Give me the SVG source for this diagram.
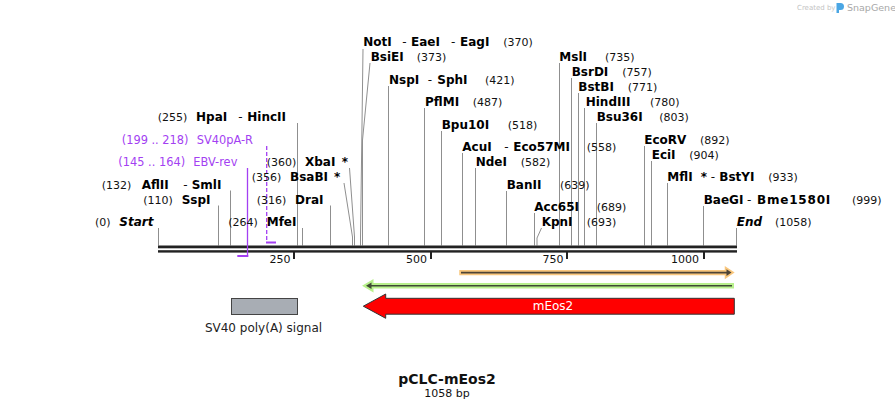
<svg xmlns="http://www.w3.org/2000/svg" width="895" height="409" viewBox="0 0 895 409">
<style>
text{font-family:"DejaVu Sans",Verdana,sans-serif}
.n{font-size:12px;font-weight:bold;fill:#000}
.i{font-style:italic}
.p{font-size:11px;fill:#111}
.d{font-size:12px;fill:#111}
.pr{font-size:11.4px;fill:#a33ff2}
.ln{fill:none;stroke:#8f8f8f;stroke-width:1}
.tk{font-size:11px;fill:#111;text-anchor:end}
.bb{fill:#222}
</style>
<rect width="895" height="409" fill="#fff"/>

<g id="watermark">
<text x="797" y="10" style="font-size:7px;fill:#c4c4c4">Created by</text>
<path d="M836.5 3 h4 a3.5 3.5 0 0 1 0 7 h-1.5 v3 h-2.5 z" fill="#4aa6e4"/>
<text x="847" y="11" style="font-size:9.5px;fill:#a8a8a8">SnapGene</text>
</g>

<g id="connectors">
<line class="ln" x1="158.5" y1="245.5" x2="158.5" y2="228"/>
<line class="ln" x1="218.5" y1="245.5" x2="218.5" y2="205.5"/>
<line class="ln" x1="230.5" y1="245.5" x2="230.5" y2="190.5"/>
<line class="ln" x1="297.5" y1="245.5" x2="297.5" y2="123"/>
<line class="ln" x1="302.5" y1="245.5" x2="302.5" y2="228"/>
<line class="ln" x1="330.5" y1="245.5" x2="330.5" y2="205.5"/>
<polyline class="ln" points="344,183 352.5,237 352.5,245.5"/>
<polyline class="ln" points="349.5,168 354.5,237 354.5,245.5"/>
<polyline class="ln" points="363,49 360.5,237 360.5,245.5"/>
<polyline class="ln" points="370,63 362.5,140 362.5,245.5"/>
<line class="ln" x1="388.5" y1="245.5" x2="388.5" y2="86"/>
<line class="ln" x1="424.5" y1="245.5" x2="424.5" y2="108"/>
<line class="ln" x1="441.5" y1="245.5" x2="441.5" y2="131"/>
<line class="ln" x1="462.5" y1="245.5" x2="462.5" y2="153"/>
<line class="ln" x1="475.5" y1="245.5" x2="475.5" y2="168"/>
<line class="ln" x1="506.5" y1="245.5" x2="506.5" y2="191"/>
<line class="ln" x1="534.5" y1="245.5" x2="534.5" y2="213"/>
<polyline class="ln" points="541.5,228 537,238 537,245.5"/>
<line class="ln" x1="559.5" y1="245.5" x2="559.5" y2="63"/>
<line class="ln" x1="571.5" y1="245.5" x2="571.5" y2="78"/>
<line class="ln" x1="578.5" y1="245.5" x2="578.5" y2="93"/>
<line class="ln" x1="584.5" y1="245.5" x2="584.5" y2="108"/>
<line class="ln" x1="596.5" y1="245.5" x2="596.5" y2="123"/>
<line class="ln" x1="644.5" y1="245.5" x2="644.5" y2="146"/>
<line class="ln" x1="651.5" y1="245.5" x2="651.5" y2="161"/>
<line class="ln" x1="667.5" y1="245.5" x2="667.5" y2="183"/>
<line class="ln" x1="703.5" y1="245.5" x2="703.5" y2="206"/>
<line class="ln" x1="736.5" y1="245.5" x2="736.5" y2="228"/>
</g>

<g id="backbone">
<rect class="bb" x="158" y="245.5" width="579" height="2.8"/>
<rect class="bb" x="158" y="250.2" width="579" height="2.4"/>
<rect class="bb" x="293" y="252" width="2" height="7"/>
<rect class="bb" x="430" y="252" width="2" height="7"/>
<rect class="bb" x="566" y="252" width="2" height="7"/>
<rect class="bb" x="703" y="252" width="2" height="7"/>
<text class="tk" x="290.5" y="263">250</text>
<text class="tk" x="427" y="263">500</text>
<text class="tk" x="563.5" y="263">750</text>
<text class="tk" x="699" y="263">1000</text>
</g>

<g id="primer-SV40pA-R">
<line x1="266.7" y1="146" x2="266.7" y2="242" stroke="#a33ff2" stroke-width="1.3" stroke-dasharray="4 2"/>
<rect x="266" y="241.5" width="10" height="2" fill="#a33ff2"/>
<text y="143.5"><tspan class="pr" x="121.7">(199 .. 218)</tspan><tspan class="pr" x="196.7">SV40pA-R</tspan></text>
</g>
<g id="primer-EBV-rev">
<line x1="247.5" y1="168" x2="247.5" y2="256.5" stroke="#a33ff2" stroke-width="1.3"/>
<rect x="237.3" y="255" width="11" height="2" fill="#a33ff2"/>
<text y="166"><tspan class="pr" x="118.3">(145 .. 164)</tspan><tspan class="pr" x="193.3">EBV-rev</tspan></text>
</g>

<g id="site-Start"><text y="226"><tspan class="p" x="95">(0)</tspan><tspan class="n i" x="119.3">Start</tspan></text></g>
<g id="site-SspI"><text y="203.5"><tspan class="p" x="143.3">(110)</tspan><tspan class="n" x="181.7">SspI</tspan></text></g>
<g id="site-AflII"><text y="188.5"><tspan class="p" x="101.7">(132)</tspan><tspan class="n" x="141.7">AflII</tspan><tspan class="d" x="183.3">-</tspan><tspan class="n" x="191.7">SmlI</tspan></text></g>
<g id="site-HpaI"><text y="121"><tspan class="p" x="157.7">(255)</tspan><tspan class="n" x="196">HpaI</tspan><tspan class="d" x="238.3">-</tspan><tspan class="n" x="247.3">HincII</tspan></text></g>
<g id="site-MfeI"><text y="226"><tspan class="p" x="228.3">(264)</tspan><tspan class="n" x="266.7">MfeI</tspan></text></g>
<g id="site-DraI"><text y="203.5"><tspan class="p" x="256.7">(316)</tspan><tspan class="n" x="295">DraI</tspan></text></g>
<g id="site-BsaBI"><text y="181"><tspan class="p" x="251.7">(356)</tspan><tspan class="n" x="290">BsaBI</tspan><tspan class="n" x="334">*</tspan></text></g>
<g id="site-XbaI"><text y="166"><tspan class="p" x="266.7">(360)</tspan><tspan class="n" x="305">XbaI</tspan><tspan class="n" x="341.7">*</tspan></text></g>
<g id="site-NotI"><text y="46"><tspan class="n" x="363.3">NotI</tspan><tspan class="d" x="402.3">-</tspan><tspan class="n" x="411">EaeI</tspan><tspan class="d" x="451">-</tspan><tspan class="n" x="460">EagI</tspan><tspan class="p" x="503.3">(370)</tspan></text></g>
<g id="site-BsiEI"><text y="61"><tspan class="n" x="370.7">BsiEI</tspan><tspan class="p" x="416.7">(373)</tspan></text></g>
<g id="site-NspI"><text y="83.5"><tspan class="n" x="389">NspI</tspan><tspan class="d" x="427.7">-</tspan><tspan class="n" x="437.3">SphI</tspan><tspan class="p" x="485">(421)</tspan></text></g>
<g id="site-PflMI"><text y="106"><tspan class="n" x="425">PflMI</tspan><tspan class="p" x="472.7">(487)</tspan></text></g>
<g id="site-Bpu10I"><text y="128.5"><tspan class="n" x="441.7">Bpu10I</tspan><tspan class="p" x="507.7">(518)</tspan></text></g>
<g id="site-AcuI"><text y="151"><tspan class="n" x="462.3">AcuI</tspan><tspan class="d" x="504.3">-</tspan><tspan class="n" x="513.3">Eco57MI</tspan><tspan class="p" x="586.7">(558)</tspan></text></g>
<g id="site-NdeI"><text y="166"><tspan class="n" x="475.7">NdeI</tspan><tspan class="p" x="520.7">(582)</tspan></text></g>
<g id="site-BanII"><text y="188.5"><tspan class="n" x="506.7">BanII</tspan><tspan class="p" x="560">(639)</tspan></text></g>
<g id="site-Acc65I"><text y="211"><tspan class="n" x="534.3">Acc65I</tspan><tspan class="p" x="596.7">(689)</tspan></text></g>
<g id="site-KpnI"><text y="226"><tspan class="n" x="541.7">KpnI</tspan><tspan class="p" x="586.7">(693)</tspan></text></g>
<g id="site-MslI"><text y="61"><tspan class="n" x="559.3">MslI</tspan><tspan class="p" x="605">(735)</tspan></text></g>
<g id="site-BsrDI"><text y="76"><tspan class="n" x="571.7">BsrDI</tspan><tspan class="p" x="622.3">(757)</tspan></text></g>
<g id="site-BstBI"><text y="91"><tspan class="n" x="578.3">BstBI</tspan><tspan class="p" x="627.7">(771)</tspan></text></g>
<g id="site-HindIII"><text y="106"><tspan class="n" x="585.7">HindIII</tspan><tspan class="p" x="650">(780)</tspan></text></g>
<g id="site-Bsu36I"><text y="121"><tspan class="n" x="596.7">Bsu36I</tspan><tspan class="p" x="659.3">(803)</tspan></text></g>
<g id="site-EcoRV"><text y="143.5"><tspan class="n" x="644.3">EcoRV</tspan><tspan class="p" x="700">(892)</tspan></text></g>
<g id="site-EciI"><text y="158.5"><tspan class="n" x="651.7">EciI</tspan><tspan class="p" x="689.3">(904)</tspan></text></g>
<g id="site-MflI"><text y="181"><tspan class="n" x="667.3">MflI</tspan><tspan class="n" x="700.7">*</tspan><tspan class="d" x="710.7">-</tspan><tspan class="n" x="719.3">BstYI</tspan><tspan class="p" x="768.3">(933)</tspan></text></g>
<g id="site-BaeGI"><text y="203.5"><tspan class="n" x="703.7">BaeGI</tspan><tspan class="d" x="747">-</tspan><tspan class="n" x="757" style="letter-spacing:0.8px">Bme1580I</tspan><tspan class="p" x="852">(999)</tspan></text></g>
<g id="site-End"><text y="226"><tspan class="n i" x="736.7">End</tspan><tspan class="p" x="775">(1058)</tspan></text></g>

<g id="feature-orf-fwd">
<path d="M461 271.8 H726.5 V269.3 L731.5 272.6 L726.5 275.9 V273.4 H461 Z" fill="#4d4436" stroke="#f9c77e" stroke-width="3.5" stroke-linejoin="miter" paint-order="stroke"/>
</g>
<g id="feature-orf-rev">
<path d="M366 285.8 L371.5 282.6 V285 H732 V286.6 H371.5 V289 Z" fill="#3f4a35" stroke="#b8f08c" stroke-width="4" stroke-linejoin="miter" paint-order="stroke"/>
</g>
<g id="feature-mEos2">
<path d="M734.3 298.3 H385.7 V294 L363.3 306.2 L385.7 318.3 V314.2 H734.3 Z" fill="#ff0000" stroke="#333" stroke-width="1"/>
<text x="553" y="310" style="font-size:12px;fill:#fff;text-anchor:middle">mEos2</text>
</g>
<g id="feature-SV40polyA">
<rect x="231.5" y="298.5" width="66" height="16" fill="#a8adb4" stroke="#444" stroke-width="1"/>
<text x="263.5" y="331.5" style="font-size:12px;fill:#222;text-anchor:middle">SV40 poly(A) signal</text>
</g>

<g id="title">
<text x="447" y="383.5" style="font-size:14px;font-weight:bold;fill:#111;text-anchor:middle">pCLC-mEos2</text>
<text x="447" y="397" style="font-size:11px;fill:#111;text-anchor:middle">1058 bp</text>
</g>
</svg>
